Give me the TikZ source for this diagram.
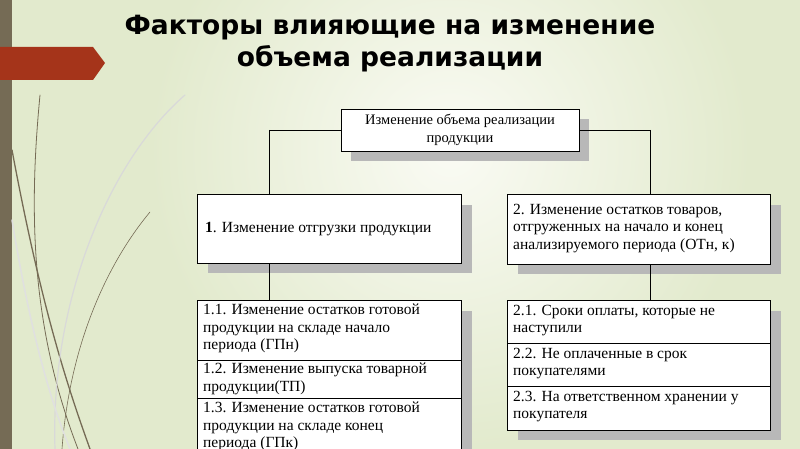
\documentclass[tikz,border=0pt]{standalone}
\usepackage{fontspec}
\setmainfont{Liberation Serif}
\newfontfamily\titlefont{DejaVu Sans}
\definecolor{bgedge}{RGB}{226,234,205}
\definecolor{bgmid}{RGB}{250,251,244}
\definecolor{stripe}{RGB}{117,107,85}
\begin{document}
\begin{tikzpicture}[x=1pt,y=-1pt,
  bx/.style={draw=black,fill=white,line width=0.8pt},
  sh/.style={fill=black!28},
  txt/.style={font=\fontsize{15.5}{17.5}\selectfont,align=left,anchor=north west,inner sep=0pt},
  ln/.style={draw=black,line width=0.8pt}]
\useasboundingbox (0,0) rectangle (800,449);
\fill[bgedge] (0,0) rectangle (800,449);
\shade[inner color=bgmid, outer color=bgedge] (150,-150) rectangle (750,450);
\fill[stripe] (0,0) rectangle (12,449);
% grass
\begin{scope}[line cap=round]
\draw[stripe,line width=1.3pt] (12,150) .. controls (40,300) and (65,380) .. (90,449);
\draw[stripe,line width=0.8pt] (40,95) .. controls (30,200) and (28,320) .. (78,449);
\draw[stripe,line width=0.6pt] (150,212) .. controls (110,260) and (70,340) .. (62,449);
\draw[black!15,line width=1.2pt] (185,95) .. controls (110,160) and (50,300) .. (55,449);
\draw[black!12,line width=1.5pt] (12,220) .. controls (30,330) and (50,400) .. (70,449);
\end{scope}
\fill[fill={rgb,255:red,165;green,52;blue,26}] (0,47) -- (93,47) -- (105,63) -- (93,80) -- (0,80) -- cycle;
% title
\node[font=\titlefont\bfseries\fontsize{26.5}{32}\selectfont,align=center] (title) at (390,44) {Факторы влияющие на изменение\\объема реализации};
% shadows
\fill[sh] (351,119) rectangle (589,161);
\fill[sh] (208,205) rectangle (472,273);
\fill[sh] (518,205) rectangle (781,274);
\fill[sh] (208,311) rectangle (472,449);
\fill[sh] (518,311) rectangle (781,440);
% connectors
\draw[ln] (269,130) -- (341,130);
\draw[ln] (579,130) -- (650,130);
\draw[ln] (269,130) -- (269,194);
\draw[ln] (650,130) -- (650,194);
\draw[ln] (269,263) -- (269,300);
\draw[ln] (650,264) -- (650,300);
% boxes
\node[bx,minimum width=238,minimum height=42,inner sep=0pt,align=center,font=\fontsize{14.5}{18}\selectfont] (top) at (460,130) {Изменение объема реализации\\продукции};
\node[bx,minimum width=264,minimum height=69,inner sep=0pt] (b1) at (329,228.5) {};
\node[txt,anchor=west] (t1) at (205,229) {\textbf{1}. Изменение отгрузки продукции};
\node[bx,minimum width=263,minimum height=70,inner sep=0pt] (b2) at (638.5,229) {};
\node[txt] (t2) at (513,204) {2. Изменение остатков товаров,\\отгруженных на начало и конец\\анализируемого периода (ОТн, к)};
\draw[bx] (197,300) rectangle (461,360);
\draw[bx] (197,360) rectangle (461,398);
\draw[bx] (197,398) rectangle (461,455);
\node[txt] (t11) at (203,304) {1.1. Изменение остатков готовой\\продукции на складе начало\\периода (ГПн)};
\node[txt] (t12) at (203,363) {1.2. Изменение выпуска товарной\\продукции(ТП)};
\node[txt] (t13) at (203,402) {1.3. Изменение остатков готовой\\продукции на складе конец\\периода (ГПк)};
\draw[bx] (507,300) rectangle (770,343);
\draw[bx] (507,343) rectangle (770,386);
\draw[bx] (507,386) rectangle (770,430);
\node[txt] (t21) at (513,305) {2.1. Сроки оплаты, которые не\\наступили};
\node[txt] (t22) at (513,348) {2.2. Не оплаченные в срок\\покупателями};
\node[txt] (t23) at (513,391) {2.3. На ответственном хранении у\\покупателя};
\end{tikzpicture}
\end{document}
